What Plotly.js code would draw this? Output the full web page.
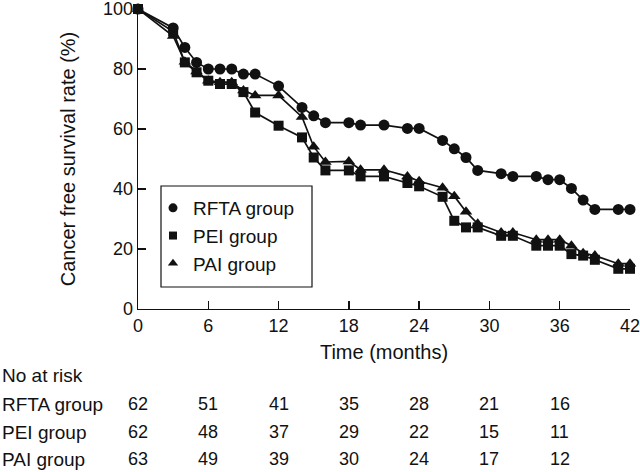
<!DOCTYPE html>
<html>
<head>
<meta charset="utf-8">
<script src="https://cdn.plot.ly/plotly-3.0.1.min.js"></script>
<style>
  html, body { margin: 0; padding: 0; background: #fff; }
  #chart { width: 640px; height: 472px; }
</style>
</head>
<body>
<div id="chart"></div>
<script>
// Survival curves (months, %)
const months = [0,3,4,5,6,7,8,9,10,12,14,15,16,18,19,21,23,24,26,27,28,29,31,32,34,35,36,37,38,39,41,42];
const rftaRate = [100,93.7,87.2,82.2,80,80,80,78.3,78.3,74.3,67.2,64.4,62.1,62.1,61.3,61.3,60.2,60.2,56.2,53.4,50.5,46.2,45.1,44.2,44.2,43.1,43.1,40.2,36.3,33.2,33.2,33.2];
const peiRate  = [100,92.5,82.2,78.9,76.1,75,75,72.3,65.5,61.1,57.2,50.5,46.2,46.2,44.2,44.2,42,40.9,37.4,29.4,27.2,27.2,24.4,24.4,21.1,21.1,21.1,18.3,17.8,16.4,13.4,13.4];
const paiRate  = [100,91,82.4,79.2,76.1,75.6,75.6,72.8,71.2,71.2,64,54.1,49,49.2,46.4,46.4,44.2,42.6,40.4,37.6,32.4,28.4,25.5,25.5,23.1,23.1,23.1,21.1,18.6,17.8,15.1,15.1];

const groupNames = ["RFTA group", "PEI group", "PAI group"];
const xTicks = [0,6,12,18,24,30,36,42];
const yTicks = [0,20,40,60,80,100];

// Number at risk table
const riskTimes = [0,6,12,18,24,30,36];
const riskRFTA = [62,51,41,35,28,21,16];
const riskPEI  = [62,48,37,29,22,15,11];
const riskPAI  = [63,49,39,30,24,17,12];

const FONT = "Liberation Sans, Arial, sans-serif";
const INK = "#111";

const series = [
  {y: rftaRate, symbol: "circle", size: 11},
  {y: peiRate, symbol: "square", size: 10},
  {y: paiRate, symbol: "triangle-up", size: 11}
];

const traces = [];
series.forEach((s, i) => {
  traces.push({
    x: months, y: s.y, type: "scatter", mode: "lines+markers",
    name: groupNames[i], showlegend: false, cliponaxis: false,
    line: {color: INK, width: 1.7},
    marker: {symbol: s.symbol, size: s.size, color: INK}
  });
});
series.forEach((s, i) => {
  traces.push({
    x: [null], y: [null], type: "scatter", mode: "markers",
    name: groupNames[i], showlegend: true,
    marker: {symbol: s.symbol, size: s.size - 2, color: INK}
  });
});

// plot area geometry in pixels (for table placement in paper coords)
const T = 9, B = 163, H = 472;
const plotH = H - T - B;
const bottomPx = H - B;
const pyToPaper = py => (bottomPx - py) / plotH;
const L = 138, R = 10, plotW = 640 - L - R;
const pxToPaper = px => (px - L) / plotW;

const annotations = [];
annotations.push({
  text: "No at risk", xref: "paper", yref: "paper",
  x: pxToPaper(0), y: pyToPaper(375), xanchor: "left", yanchor: "middle",
  showarrow: false, font: {family: FONT, size: 19, color: INK}
});
const rows = [riskRFTA, riskPEI, riskPAI];
const rowY = [404, 432, 459];
rows.forEach((vals, r) => {
  annotations.push({
    text: groupNames[r], xref: "paper", yref: "paper",
    x: pxToPaper(0), y: pyToPaper(rowY[r]), xanchor: "left", yanchor: "middle",
    showarrow: false, font: {family: FONT, size: 19, color: INK}
  });
  vals.forEach((v, c) => {
    annotations.push({
      text: String(v), xref: "x", yref: "paper",
      x: riskTimes[c], y: pyToPaper(rowY[r]), xanchor: "center", yanchor: "middle",
      showarrow: false, font: {family: FONT, size: 18, color: INK}
    });
  });
});

const axisCommon = {
  showline: true, linecolor: INK, linewidth: 1.3,
  ticks: "inside", ticklen: 8, tickwidth: 1.3, tickcolor: INK,
  showgrid: false, zeroline: false, ticklabeloverflow: "allow",
  tickfont: {family: FONT, size: 18, color: INK}
};

const layout = {
  width: 640, height: 472,
  margin: {l: L, r: R, t: T, b: B},
  paper_bgcolor: "#fff", plot_bgcolor: "#fff",
  font: {family: FONT, color: INK},
  xaxis: Object.assign({}, axisCommon, {
    range: [0, 42], tickvals: xTicks,
    title: {text: "Time (months)", font: {family: FONT, size: 20, color: INK}, standoff: 10}
  }),
  yaxis: Object.assign({}, axisCommon, {
    range: [0, 100], tickvals: yTicks,
    title: {text: "Cancer free survival rate (%)", font: {family: FONT, size: 20, color: INK}, standoff: 22}
  }),
  legend: {
    x: pxToPaper(153), y: pyToPaper(189), xanchor: "left", yanchor: "top",
    borderwidth: 0, bgcolor: "rgba(0,0,0,0)",
    font: {family: FONT, size: 19, color: INK}
  },
  shapes: [{
    type: "rect", xref: "paper", yref: "paper", layer: "below",
    x0: pxToPaper(161), x1: pxToPaper(312), y0: pyToPaper(287), y1: pyToPaper(186),
    line: {color: INK, width: 1.2}, fillcolor: "#fff"
  }],
  annotations: annotations,
  showlegend: true
};

Plotly.newPlot("chart", traces, layout, {staticPlot: true, displayModeBar: false});
</script>
</body>
</html>
